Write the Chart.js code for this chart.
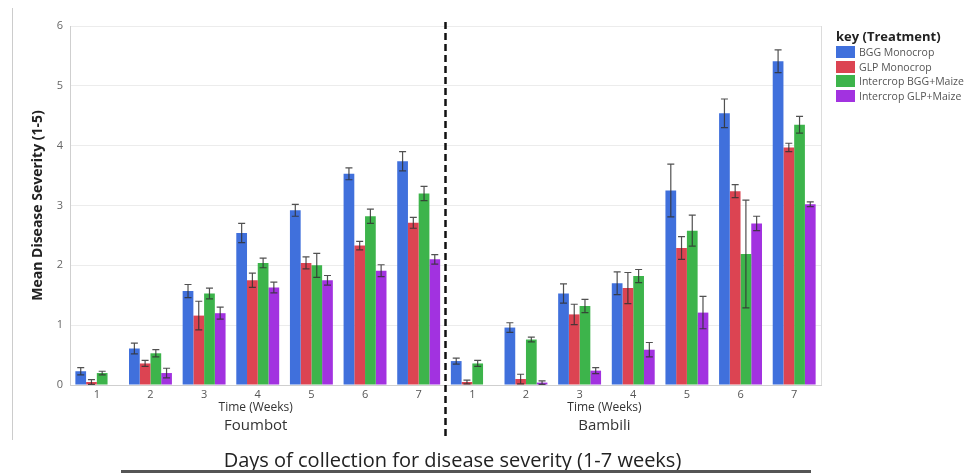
<!DOCTYPE html>
<html>
<head>
<meta charset="utf-8">
<script src="https://cdn.jsdelivr.net/npm/chart.js@4.4.1/dist/chart.umd.min.js"></script>
<style>
  html, body { margin: 0; padding: 0; background: #fff; }
  #wrap { position: relative; width: 971px; height: 475px; overflow: hidden; }
  #wrap canvas { position: absolute; left: 0; top: 0; }
  #legend { position: absolute; left: 836px; top: 28px; font-family: "Open Sans", sans-serif; }
  #legend .ttl { font-weight: bold; font-size: 13px; color: #222; margin-bottom: 0; line-height: 17px; }
  #legend .row { display: flex; align-items: center; height: 14.5px; font-size: 10.5px; color: #555; }
  #legend .sw { width: 19px; height: 12px; margin-right: 4px; }
  #footer { position: absolute; left: 0; width: 905px; top: 446px; text-align: center;
    font-family: "Liberation Sans Narrow", "Open Sans", sans-serif; font-size: 20px; color: #222; }
  #rule { position: absolute; left: 121px; top: 470px; width: 690px; height: 3px; background: #555; }
  #frame { position: absolute; left: 12px; top: 8px; width: 1px; height: 432px; background: #ccc; }
</style>
</head>
<body>
<div id="wrap">
  <div id="frame"></div>
  <canvas id="chart" width="971" height="475"></canvas>
  <div id="legend"></div>
  <div id="footer">Days of collection for disease severity (1-7 weeks)</div>
  <div id="rule"></div>
</div>
<script>
// categories: weeks 1-7 for each site
const weeks = ['1', '2', '3', '4', '5', '6', '7'];
const sites = ['Foumbot', 'Bambili'];
const labels = [...weeks, ...weeks];

// mean severity, Foumbot weeks 1-7 then Bambili weeks 1-7
const bggMono  = [0.23, 0.61, 1.57, 2.54, 2.92, 3.53, 3.74,   0.40, 0.96, 1.53, 1.70, 3.25, 4.54, 5.41];
const glpMono  = [0.05, 0.36, 1.16, 1.75, 2.04, 2.33, 2.71,   0.05, 0.10, 1.18, 1.62, 2.29, 3.24, 3.97];
const interBgg = [0.20, 0.53, 1.53, 2.04, 2.00, 2.82, 3.20,   0.36, 0.76, 1.32, 1.82, 2.58, 2.19, 4.35];
const interGlp = [null, 0.20, 1.20, 1.63, 1.75, 1.91, 2.10,   null, 0.04, 0.24, 0.59, 1.21, 2.70, 3.02];

// standard errors
const bggErr  = [0.06, 0.09, 0.11, 0.16, 0.10, 0.10, 0.16,   0.05, 0.08, 0.16, 0.19, 0.44, 0.24, 0.19];
const glpErr  = [0.04, 0.05, 0.24, 0.12, 0.10, 0.07, 0.09,   0.03, 0.08, 0.17, 0.26, 0.19, 0.11, 0.07];
const ibggErr = [0.03, 0.06, 0.09, 0.08, 0.20, 0.12, 0.12,   0.05, 0.04, 0.11, 0.11, 0.26, 0.90, 0.14];
const iglpErr = [0,    0.08, 0.10, 0.09, 0.08, 0.10, 0.08,   0,    0.03, 0.05, 0.12, 0.27, 0.12, 0.04];

const seriesNames = ['BGG Monocrop', 'GLP Monocrop', 'Intercrop BGG+Maize', 'Intercrop GLP+Maize'];
const seriesColors = ['#4070dc', '#dc4452', '#3db44b', '#a232e0'];
const seriesData = [bggMono, glpMono, interBgg, interGlp];
const seriesErr = [bggErr, glpErr, ibggErr, iglpErr];

const font = '"Open Sans", sans-serif';

// error bars, frame, dashed divider and site labels
const extras = {
  id: 'extras',
  afterDatasetsDraw(chart) {
    const ctx = chart.ctx;
    const x = chart.scales.x, y = chart.scales.y;
    const area = chart.chartArea;
    ctx.save();
    ctx.strokeStyle = 'rgba(50,50,50,0.85)';
    ctx.lineWidth = 1.2;
    chart.data.datasets.forEach((ds, i) => {
      const meta = chart.getDatasetMeta(i);
      meta.data.forEach((bar, j) => {
        const v = ds.data[j];
        const e = seriesErr[i][j];
        if (v == null || !e) return;
        const yt = y.getPixelForValue(v + e);
        const yb = y.getPixelForValue(Math.max(0, v - e));
        ctx.beginPath();
        ctx.moveTo(bar.x, yt); ctx.lineTo(bar.x, yb);
        ctx.moveTo(bar.x - 3.5, yt); ctx.lineTo(bar.x + 3.5, yt);
        ctx.moveTo(bar.x - 3.5, yb); ctx.lineTo(bar.x + 3.5, yb);
        ctx.stroke();
      });
    });
    // right frame line
    ctx.strokeStyle = '#dcdcdc';
    ctx.lineWidth = 1;
    ctx.beginPath();
    ctx.moveTo(area.right + 0.5, area.top); ctx.lineTo(area.right + 0.5, area.bottom);
    ctx.stroke();
    // dashed divider between sites
    const mid = (x.getPixelForValue(6) + x.getPixelForValue(7)) / 2;
    ctx.strokeStyle = '#111';
    ctx.lineWidth = 2.5;
    ctx.setLineDash([7, 4]);
    ctx.beginPath();
    ctx.moveTo(mid, area.top - 4); ctx.lineTo(mid, 440);
    ctx.stroke();
    ctx.setLineDash([]);
    // site labels
    ctx.fillStyle = '#333';
    ctx.textAlign = 'center';
    ctx.textBaseline = 'middle';
    const centers = [x.getPixelForValue(3) - 2, (x.getPixelForValue(9) + x.getPixelForValue(10)) / 2 - 2];
    centers.forEach((cx, k) => {
      ctx.font = '12px ' + font;
      ctx.fillText('Time (Weeks)', cx, 408);
      ctx.font = '15px ' + font;
      ctx.fillText(sites[k], cx, 426);
    });
    ctx.restore();
  }
};

const chart = new Chart(document.getElementById('chart'), {
  type: 'bar',
  data: {
    labels,
    datasets: seriesNames.map((name, i) => ({
      label: name,
      data: seriesData[i],
      backgroundColor: seriesColors[i],
      borderWidth: 0,
      categoryPercentage: 0.8,
      barPercentage: 1.0,
    })),
  },
  options: {
    responsive: false,
    animation: false,
    layout: { padding: { left: 30, right: 150, top: 26, bottom: 70 } },
    plugins: { legend: { display: false }, tooltip: { enabled: false } },
    scales: {
      x: {
        grid: { display: false, tickLength: 0 },
        border: { color: '#cfcfcf' },
        ticks: { color: '#555', font: { family: font, size: 11 }, padding: 3, maxRotation: 0 },
        afterFit: (s) => { s.height = 20; },
      },
      y: {
        min: 0, max: 6,
        ticks: { stepSize: 1, color: '#666', font: { family: font, size: 11 }, padding: 7 },
        grid: { color: '#ececec', drawTicks: false },
        border: { color: '#cfcfcf' },
        title: { display: true, text: 'Mean Disease Severity (1-5)', color: '#222',
          font: { family: font, size: 14, weight: 'bold' }, padding: { top: 0, bottom: 0 } },
        afterFit: (s) => { s.width = 40; },
      },
    },
  },
  plugins: [extras],
});

// legend built from the datasets
const legend = document.getElementById('legend');
legend.innerHTML = '<div class="ttl">key (Treatment)</div>' +
  seriesNames.map((n, i) => '<div class="row"><span class="sw" style="background:' + seriesColors[i] + '"></span>' + n + '</div>').join('');
</script>
</body>
</html>
